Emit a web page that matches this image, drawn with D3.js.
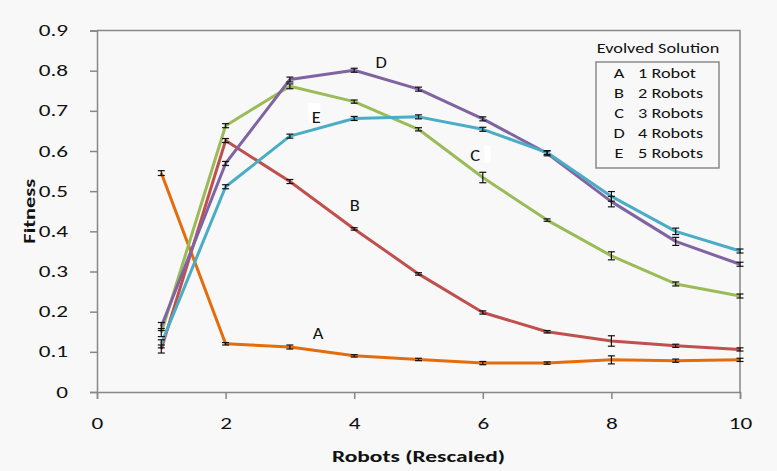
<!DOCTYPE html>
<html>
<head>
<meta charset="utf-8">
<script src="https://cdn.jsdelivr.net/npm/d3@7"></script>
<style>
  html, body { margin: 0; padding: 0; background: #f8f8f8; }
  svg { display: block; }
  text { font-family: Carlito, Lato, "Open Sans", sans-serif; fill: #111; }
</style>
</head>
<body>
<svg id="chart" width="777" height="471"></svg>
<script>
// Robot counts along the x axis
const robots = [1, 2, 3, 4, 5, 6, 7, 8, 9, 10];

// Mean fitness for each evolved solution
const fitA = [0.545, 0.120, 0.112, 0.090, 0.081, 0.072, 0.072, 0.080, 0.078, 0.080];
const fitB = [0.107, 0.626, 0.524, 0.406, 0.294, 0.198, 0.150, 0.127, 0.115, 0.106];
const fitC = [0.148, 0.663, 0.761, 0.723, 0.654, 0.534, 0.428, 0.339, 0.269, 0.239];
const fitD = [0.163, 0.569, 0.778, 0.801, 0.754, 0.680, 0.594, 0.474, 0.375, 0.318];
const fitE = [0.120, 0.511, 0.637, 0.681, 0.685, 0.654, 0.596, 0.487, 0.400, 0.351];

// Standard error for each point
const errA = [0.006, 0.003, 0.005, 0.003, 0.003, 0.004, 0.003, 0.010, 0.004, 0.004];
const errB = [0.010, 0.005, 0.005, 0.003, 0.003, 0.004, 0.003, 0.013, 0.004, 0.004];
const errC = [0.010, 0.005, 0.006, 0.004, 0.004, 0.013, 0.003, 0.010, 0.005, 0.005];
const errD = [0.010, 0.005, 0.006, 0.005, 0.005, 0.005, 0.006, 0.013, 0.010, 0.005];
const errE = [0.010, 0.005, 0.005, 0.005, 0.005, 0.005, 0.005, 0.012, 0.008, 0.005];

const seriesKeys   = ["A", "B", "C", "D", "E"];
const seriesNames  = ["1 Robot", "2 Robots", "3 Robots", "4 Robots", "5 Robots"];
const seriesColors = ["#E46C0A", "#C0504D", "#9BBB59", "#8064A2", "#4BACC6"];
const seriesValues = [fitA, fitB, fitC, fitD, fitE];
const seriesErrors = [errA, errB, errC, errD, errE];

// In-plot label anchors (data coordinates)
const labelX = [3.44, 4.01, 5.88, 4.42, 3.41];
const labelY = [0.144, 0.463, 0.589, 0.819, 0.682];

const xTicks = [0, 2, 4, 6, 8, 10];
const yTicks = [0, 0.1, 0.2, 0.3, 0.4, 0.5, 0.6, 0.7, 0.8, 0.9];

const svg = d3.select("#chart");
const margin = { left: 97, right: 37, top: 30.5, bottom: 79 };
const W = 777, H = 471;

const x = d3.scaleLinear().domain([0, 10]).range([margin.left, W - margin.right]);
const y = d3.scaleLinear().domain([0, 0.9]).range([H - margin.bottom, margin.top]);

const axisColor = "#878787";

// Widen text glyphs horizontally around their anchor point
function widen(sel, sx) {
  sel.each(function () {
    const t = d3.select(this);
    const tx = +t.attr("x") || 0, ty = +t.attr("y") || 0;
    const prev = t.attr("transform") || "";
    t.attr("x", 0).attr("y", 0)
     .attr("transform", `${prev} translate(${tx},${ty}) scale(${sx},1)`);
  });
}

// Frame: top and right edges
svg.append("path")
  .attr("d", `M${x(0)},${y(0.9)}H${x(10)}V${y(0)}`)
  .attr("fill", "none").attr("stroke", axisColor).attr("stroke-width", 1.5);

// Y axis
const yAxis = svg.append("g")
  .attr("transform", `translate(${x(0)},0)`)
  .call(d3.axisLeft(y).tickValues(yTicks).tickSize(7).tickPadding(22)
    .tickFormat(d => d === 0 ? "0" : d3.format(".1f")(d)));
yAxis.select(".domain").attr("stroke", axisColor).attr("stroke-width", 1.5);
yAxis.selectAll(".tick line").attr("stroke", axisColor).attr("stroke-width", 1.5);
yAxis.selectAll(".tick text").style("font-size", "16px").attr("fill", "#111")
  .call(widen, 1.45);

// X axis
const xAxis = svg.append("g")
  .attr("transform", `translate(0,${y(0)})`)
  .call(d3.axisBottom(x).tickValues(xTicks).tickSize(7).tickPadding(19));
xAxis.select(".domain").attr("stroke", axisColor).attr("stroke-width", 1.5);
xAxis.selectAll(".tick line").attr("stroke", axisColor).attr("stroke-width", 1.5);
xAxis.selectAll(".tick text").style("font-size", "16px").attr("fill", "#111")
  .call(widen, 1.45);

// Axis titles
svg.append("text")
  .attr("x", (x(0) + x(10)) / 2).attr("y", 462)
  .attr("text-anchor", "middle")
  .style("font-size", "16.5px").style("font-weight", "bold")
  .text("Robots (Rescaled)")
  .call(widen, 1.42);

svg.append("text")
  .attr("transform", `translate(35,${y(0.45)}) rotate(-90)`)
  .attr("text-anchor", "middle")
  .style("font-size", "16.5px").style("font-weight", "bold")
  .text("Fitness")
  .call(widen, 1.36);

// Lines
const line = d3.line().x(d => x(d[0])).y(d => y(d[1]));
seriesValues.forEach((vals, i) => {
  svg.append("path")
    .datum(robots.map((r, j) => [r, vals[j]]))
    .attr("d", line)
    .attr("fill", "none")
    .attr("stroke", seriesColors[i])
    .attr("stroke-width", 3)
    .attr("stroke-linejoin", "round");
});

// Error bars
const capHalf = 3.5;
seriesValues.forEach((vals, i) => {
  const g = svg.append("g").attr("stroke", "#111").attr("stroke-width", 1.2);
  robots.forEach((r, j) => {
    const cx = x(r);
    const lo = y(vals[j] - seriesErrors[i][j]);
    const hi = y(vals[j] + seriesErrors[i][j]);
    g.append("line").attr("x1", cx).attr("x2", cx).attr("y1", lo).attr("y2", hi);
    g.append("line").attr("x1", cx - capHalf).attr("x2", cx + capHalf).attr("y1", lo).attr("y2", lo);
    g.append("line").attr("x1", cx - capHalf).attr("x2", cx + capHalf).attr("y1", hi).attr("y2", hi);
  });
});

// Series letter labels (E and C sit on partly visible white label boxes)
seriesKeys.forEach((k, i) => {
  const px = x(labelX[i]), py = y(labelY[i]);
  if (k === "E") {
    svg.append("rect").attr("x", px - 8.5).attr("y", py - 15)
      .attr("width", 12.5).attr("height", 20).attr("fill", "#ffffff");
  }
  if (k === "C") {
    svg.append("rect").attr("x", px + 9.5).attr("y", py - 9.5)
      .attr("width", 6).attr("height", 17).attr("fill", "#ffffff");
  }
  svg.append("text")
    .attr("x", px).attr("y", py)
    .attr("text-anchor", "middle")
    .attr("dominant-baseline", "central")
    .style("font-size", "16px")
    .text(k)
    .call(widen, 1.15);
});

// Legend
const legX = 596, legY = 62, legW = 123, legH = 106;
svg.append("text")
  .attr("x", legX + legW / 2 + 0.5).attr("y", 53)
  .attr("text-anchor", "middle")
  .style("font-size", "15px")
  .text("Evolved Solution")
  .call(widen, 1.22);
svg.append("rect")
  .attr("x", legX).attr("y", legY).attr("width", legW).attr("height", legH)
  .attr("fill", "none").attr("stroke", "#8a8a8a").attr("stroke-width", 1.5);
seriesKeys.forEach((k, i) => {
  const ry = 72.3 + i * 20.2;
  svg.append("text")
    .attr("x", 619).attr("y", ry).attr("dominant-baseline", "central")
    .attr("text-anchor", "middle")
    .style("font-size", "15px").text(k)
    .call(widen, 1.22);
  svg.append("text")
    .attr("x", 638).attr("y", ry).attr("dominant-baseline", "central")
    .style("font-size", "15px").text(seriesNames[i])
    .call(widen, 1.22);
});
</script>
</body>
</html>
